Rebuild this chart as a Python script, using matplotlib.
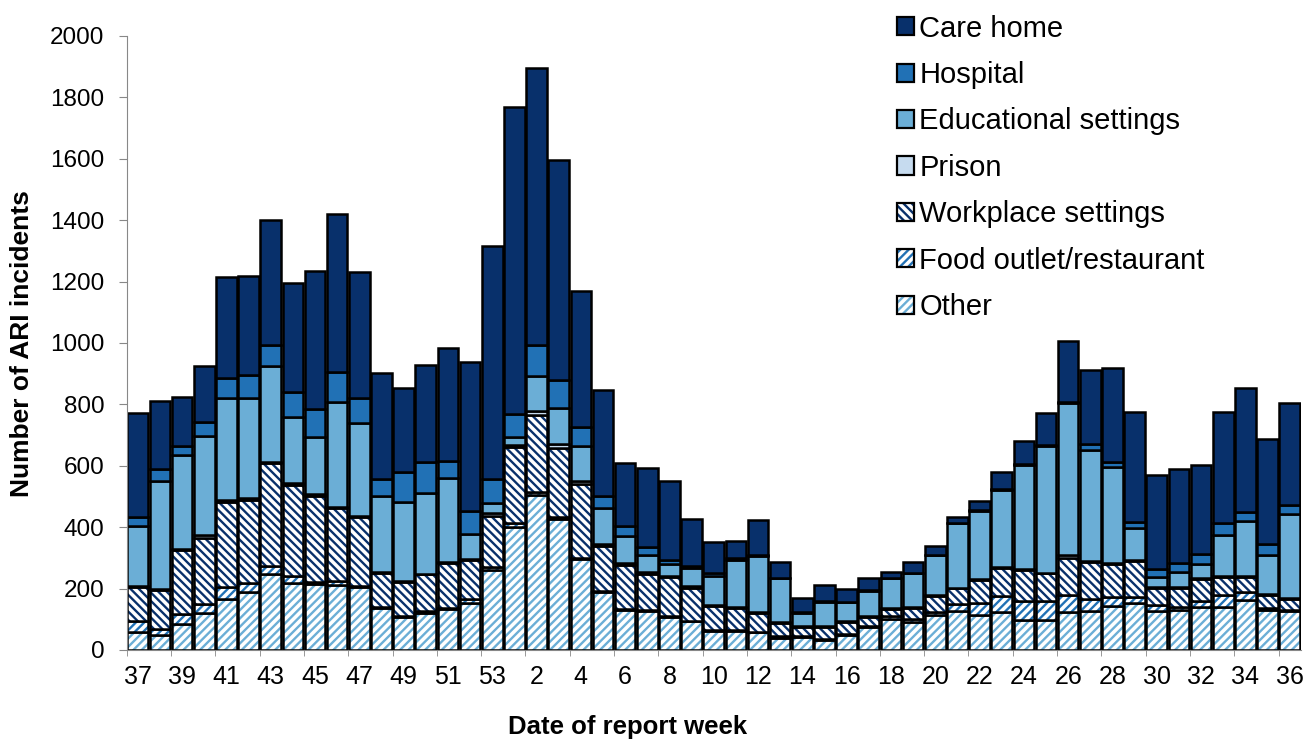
import matplotlib.pyplot as plt
from matplotlib.patches import Patch
from matplotlib.legend_handler import HandlerTuple
import numpy as np

plt.rcParams['font.family'] = ['Liberation Sans', 'DejaVu Sans']
plt.rcParams['hatch.linewidth'] = 1.7

weeks = list(range(37, 54)) + list(range(1, 37))

other = [60, 50, 84, 120, 166, 189, 246, 219, 215, 211, 206, 136, 106, 120, 133, 153, 259,
         399, 505, 428, 295, 189, 129, 126, 109, 93, 62, 62, 57, 38, 43, 33, 49, 76, 101, 90,
         114, 127, 114, 123, 98, 98, 123, 127, 144, 152, 127, 130, 141, 141, 163, 130, 127]
food = [33, 20, 33, 29, 40, 30, 26, 23, 8, 14, 3, 4, 4, 6, 3, 13, 11,
        16, 11, 4, 4, 3, 3, 3, 3, 2, 3, 3, 2, 7, 4, 3, 3, 3, 9, 11,
        9, 22, 38, 54, 62, 62, 56, 39, 30, 22, 20, 11, 19, 38, 27, 8, 3]
workplace = [113, 127, 209, 216, 275, 270, 337, 294, 279, 236, 223, 110, 112, 120, 147, 126, 166,
             246, 248, 226, 243, 147, 144, 117, 125, 108, 79, 72, 63, 42, 29, 40, 40, 30, 24, 37,
             54, 52, 76, 91, 101, 90, 120, 120, 105, 116, 56, 60, 71, 60, 49, 41, 36]
prison = [4, 3, 4, 10, 8, 5, 2, 9, 7, 4, 4, 3, 4, 3, 3, 3, 9,
          6, 13, 13, 10, 7, 7, 7, 5, 7, 3, 2, 2, 3, 2, 2, 2, 2, 2, 2,
          2, 2, 2, 2, 2, 2, 10, 4, 4, 3, 3, 3, 3, 3, 3, 3, 2]
educational = [195, 352, 304, 323, 332, 326, 313, 215, 186, 343, 304, 249, 255, 263, 275, 84, 33,
               27, 117, 117, 113, 116, 89, 55, 37, 56, 95, 153, 182, 143, 44, 79, 61, 81, 97, 110,
               130, 210, 223, 251, 340, 414, 494, 361, 314, 103, 33, 49, 45, 133, 178, 127, 274]
hospital = [27, 39, 31, 46, 65, 76, 69, 81, 89, 96, 81, 54, 100, 99, 55, 73, 78,
            74, 99, 92, 62, 40, 31, 28, 13, 6, 8, 7, 2, 3, 2, 2, 2, 2, 2, 2,
            2, 2, 2, 2, 2, 2, 6, 19, 16, 22, 24, 29, 33, 38, 31, 35, 30]
care_home = [339, 220, 159, 180, 330, 323, 406, 354, 449, 517, 410, 345, 274, 317, 369, 485, 760,
             1002, 903, 715, 443, 345, 206, 258, 260, 156, 102, 57, 115, 52, 44, 53, 41, 39, 20, 34,
             29, 19, 30, 58, 77, 103, 197, 242, 307, 356, 307, 306, 291, 363, 403, 343, 331]

# name, values, face colour, hatch colour, hatch
series = [
    ('Other', other, 'white', '#6baed6', '////'),
    ('Food outlet/restaurant', food, 'white', '#2171b5', '////'),
    ('Workplace settings', workplace, 'white', '#08306b', '\\\\\\\\'),
    ('Prison', prison, '#c6dbef', None, None),
    ('Educational settings', educational, '#6baed6', None, None),
    ('Hospital', hospital, '#2171b5', None, None),
    ('Care home', care_home, '#08306b', None, None),
]

fig = plt.figure(figsize=(13.06, 7.42), dpi=100)
ax = fig.add_axes([0.097, 0.124, 0.899, 0.8275])

x = np.arange(len(weeks))
bottom = np.zeros(len(weeks))
handles = []
for name, vals, face, hcol, hatch in series:
    vals = np.array(vals, dtype=float)
    if hatch:
        ax.bar(x, vals, 0.93, bottom=bottom, color=face, edgecolor=hcol,
               hatch=hatch, linewidth=0)
        h1 = Patch(facecolor=face, edgecolor=hcol, hatch=hatch, linewidth=0)
    else:
        ax.bar(x, vals, 0.93, bottom=bottom, color=face, linewidth=0)
        h1 = Patch(facecolor=face, linewidth=0)
    ax.bar(x, vals, 0.93, bottom=bottom, fill=False, edgecolor='black', linewidth=1.8)
    h2 = Patch(fill=False, edgecolor='black', linewidth=1.6)
    handles.append(((h1, h2), name))
    bottom += vals

ax.set_xlim(-0.5, len(weeks) - 0.5)
ax.set_ylim(0, 2000)
ax.set_yticks(range(0, 2001, 200))
ax.tick_params(axis='y', labelsize=17.5, length=6, pad=10, color='#888888')

ax.set_xticks(x[::2])
ax.set_xticklabels([str(w) for w in weeks[::2]], fontsize=18)
ax.tick_params(axis='x', length=0, pad=11)
ax.set_xticks(np.arange(-0.5, len(weeks), 2), minor=True)
ax.tick_params(axis='x', which='minor', length=4.5, color='#888888')

for s in ['top', 'right']:
    ax.spines[s].set_visible(False)
for s in ['left', 'bottom']:
    ax.spines[s].set_color('#888888')

fig.text(22 / 1306, 1 - 344 / 742, 'Number of ARI incidents', fontsize=19,
         fontweight='bold', rotation=90, ha='center', va='center')
fig.text(628 / 1306, 1 - 727 / 742, 'Date of report week', fontsize=18.5,
         fontweight='bold', ha='center', va='center')

hs = [h for h, n in handles][::-1]
ns = [n for h, n in handles][::-1]
ax.legend(hs, ns, handler_map={tuple: HandlerTuple(ndivide=1, pad=0)},
          loc='upper left', bbox_to_anchor=(885 / 1306, 1 - 3 / 742), bbox_transform=fig.transFigure,
          frameon=False, fontsize=21, handlelength=0.58, handleheight=0.58,
          handletextpad=0.2, labelspacing=0.63, borderaxespad=0)

fig.savefig('out.png', dpi=100)
